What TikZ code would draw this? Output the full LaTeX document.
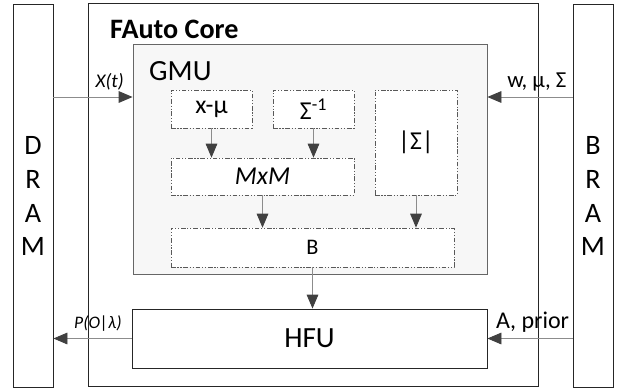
\documentclass[tikz,border=0pt]{standalone}
\usepackage{fontspec}
\setmainfont{Carlito}
\usetikzlibrary{arrows.meta}
\newcommand{\px}{0.03cm}
\newcommand{\blk}[6]{\node[#1, minimum width=#4*\px, minimum height=#5*\px] (#2) at (#3) {#6};}
\definecolor{linegray}{HTML}{8C8C8C}
\definecolor{tipgray}{HTML}{404040}
\definecolor{gmufill}{HTML}{F7F7F7}
\tikzset{
  solidbox/.style={draw=black!85, line width=0.7pt, inner sep=0pt},
  dotbox/.style={draw=black!65, fill=white, line width=0.6pt, inner sep=0pt,
    dash pattern=on 4pt off 1.5pt on 1pt off 1.5pt on 1pt off 1.5pt},
  arr/.style={draw=linegray, line width=0.8pt, -{Triangle[length=12pt,width=10pt,color=tipgray]}},
  lbl/.style={inner sep=0pt}
}
\begin{document}
\begin{tikzpicture}[x=0.03cm, y=-0.03cm]
\useasboundingbox (0,0) rectangle (618,391);
\blk{solidbox, align=center, font=\fontsize{24}{29}\selectfont}{dram}{33,196}{40}{383}{D\\R\\A\\M}
\blk{solidbox, align=center, font=\fontsize{24}{29}\selectfont}{bram}{593,196}{40}{383}{B\\R\\A\\M}
\blk{solidbox}{core}{313,194.5}{450}{383}{}
\node[lbl, anchor=west, font=\fontsize{24}{28}\selectfont\bfseries] (corename) at (110,29) {FAuto Core};
\blk{draw=black!60, fill=gmufill, line width=0.7pt, inner sep=0pt}{gmu}{310,159}{354}{230}{}
\node[lbl, anchor=west, font=\fontsize{25}{28}\selectfont] (gmuname) at (149,71) {GMU};
\blk{dotbox, font=\fontsize{22}{24}\selectfont}{xmu}{211.5,109}{81}{38}{x-μ}
\blk{dotbox, font=\fontsize{22}{24}\selectfont}{sinv}{313.5,109}{81}{38}{Σ\textsuperscript{-1}}
\blk{dotbox, font=\fontsize{22}{24}\selectfont}{det}{416,142.5}{82}{105}{|Σ|}
\blk{dotbox, font=\fontsize{22}{24}\selectfont\itshape}{mxm}{262.5,176.5}{183}{37}{MxM}
\blk{dotbox, font=\fontsize{19}{22}\selectfont}{bnode}{312.5,247.5}{283}{39}{B}
\blk{solidbox, font=\fontsize{25}{28}\selectfont}{hfu}{309.5,338.5}{355}{59}{HFU}
\coordinate (inrow) at (0,97);
\draw[arr] (dram.east |- inrow) -- (gmu.west |- inrow) node[pos=0.71, above=2pt, font=\fontsize{16.5}{18}\selectfont\itshape] (xt) {X(t)};
\draw[arr] (bram.west |- inrow) -- (gmu.east |- inrow) node[pos=0.42, above=1.5pt, font=\fontsize{19.5}{22}\selectfont] (wms) {w, μ, Σ};
\draw[arr] (xmu) -- (xmu |- mxm.north);
\draw[arr] (sinv) -- (sinv |- mxm.north);
\draw[arr] (mxm) -- (mxm |- bnode.north);
\draw[arr] (det) -- (det |- bnode.north);
\draw[arr] (bnode) -- (bnode |- hfu.north);
\draw[arr] (hfu.west) -- (dram.east |- hfu.west) node[pos=0.43, above=2pt, font=\fontsize{15}{17}\selectfont\itshape] (pol) {P(O|λ)};
\draw[arr] (bram.west |- hfu.east) -- (hfu.east) node[pos=0.47, above=1.5pt, font=\fontsize{20.5}{23}\selectfont] (aprior) {A, prior};
\end{tikzpicture}
\end{document}
